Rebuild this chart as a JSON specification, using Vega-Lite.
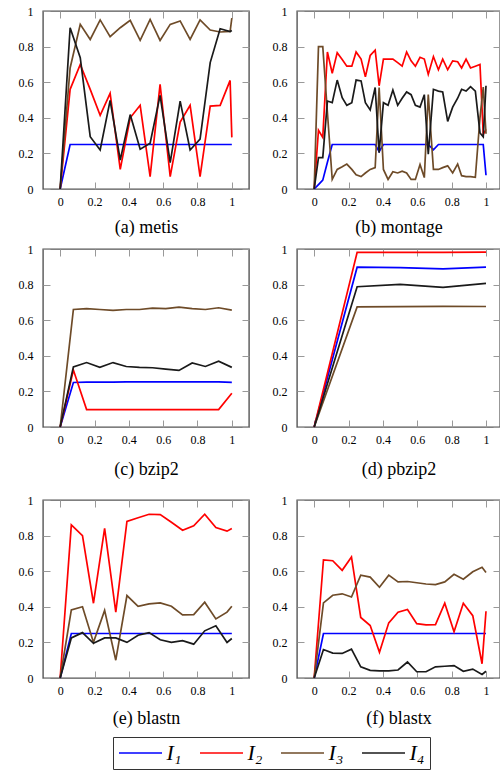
{
  "$schema": "https://vega.github.io/schema/vega-lite/v6.json",
  "padding": {"left": 17, "top": 4, "right": 0, "bottom": 0},
  "config": {
    "font": "Liberation Serif",
    "view": {"stroke": "#555", "strokeWidth": 1.4},
    "axis": {"grid": false, "domain": false, "tickColor": "#999", "tickWidth": 1, "tickSize": 7, "offset": -7,
      "labelFont": "Liberation Serif", "labelFontSize": 12, "labelColor": "#000",
      "titleFont": "Liberation Serif", "titleFontSize": 18, "titleFontWeight": "normal", "titleColor": "#000"},
    "line": {"strokeWidth": 1.7}
  },
  "datasets": {
    "a": [
      {"x":0,"I1":0,"I2":0,"I3":0,"I4":0},
      {"x":0.058,"I1":0.25,"I2":0.56,"I3":0.68,"I4":0.906},
      {"x":0.117,"I1":0.25,"I2":0.70,"I3":0.925,"I4":0.738},
      {"x":0.175,"I1":0.25,"I2":0.56,"I3":0.84,"I4":0.294},
      {"x":0.233,"I1":0.25,"I2":0.414,"I3":0.95,"I4":0.219},
      {"x":0.291,"I1":0.25,"I2":0.537,"I3":0.856,"I4":0.498},
      {"x":0.35,"I1":0.25,"I2":0.11,"I3":0.906,"I4":0.163},
      {"x":0.408,"I1":0.25,"I2":0.40,"I3":0.948,"I4":0.418},
      {"x":0.466,"I1":0.25,"I2":0.47,"I3":0.835,"I4":0.223},
      {"x":0.524,"I1":0.25,"I2":0.07,"I3":0.953,"I4":0.257},
      {"x":0.582,"I1":0.25,"I2":0.588,"I3":0.835,"I4":0.526},
      {"x":0.641,"I1":0.25,"I2":0.07,"I3":0.925,"I4":0.148},
      {"x":0.699,"I1":0.25,"I2":0.376,"I3":0.944,"I4":0.494},
      {"x":0.757,"I1":0.25,"I2":0.47,"I3":0.84,"I4":0.219},
      {"x":0.815,"I1":0.25,"I2":0.07,"I3":0.95,"I4":0.28},
      {"x":0.874,"I1":0.25,"I2":0.466,"I3":0.893,"I4":0.71},
      {"x":0.932,"I1":0.25,"I2":0.47,"I3":0.882,"I4":0.90},
      {"x":0.99,"I1":0.25,"I2":0.61,"I3":0.885,"I4":0.885},
      {"x":1.0,"I1":0.25,"I2":0.29,"I3":0.96,"I4":0.89}
    ],
    "b": [
      {"x":0,"I1":0,"I2":0,"I3":0,"I4":0},
      {"x":0.025,"I1":0.025,"I2":0.33,"I3":0.80,"I4":0.176},
      {"x":0.05,"I1":0.05,"I2":0.29,"I3":0.80,"I4":0.176},
      {"x":0.077,"I1":0.15,"I2":0.77,"I3":0.43,"I4":0.494},
      {"x":0.105,"I1":0.25,"I2":0.65,"I3":0.054,"I4":0.485},
      {"x":0.134,"I1":0.25,"I2":0.766,"I3":0.11,"I4":0.612},
      {"x":0.163,"I1":0.25,"I2":0.727,"I3":0.125,"I4":0.513},
      {"x":0.19,"I1":0.25,"I2":0.69,"I3":0.14,"I4":0.47},
      {"x":0.219,"I1":0.25,"I2":0.69,"I3":0.11,"I4":0.485},
      {"x":0.244,"I1":0.25,"I2":0.77,"I3":0.08,"I4":0.612},
      {"x":0.273,"I1":0.25,"I2":0.73,"I3":0.07,"I4":0.607},
      {"x":0.298,"I1":0.25,"I2":0.63,"I3":0.09,"I4":0.485},
      {"x":0.326,"I1":0.25,"I2":0.75,"I3":0.11,"I4":0.444},
      {"x":0.355,"I1":0.25,"I2":0.78,"I3":0.12,"I4":0.57},
      {"x":0.378,"I1":0.21,"I2":0.58,"I3":0.57,"I4":0.204},
      {"x":0.403,"I1":0.25,"I2":0.73,"I3":0.11,"I4":0.485},
      {"x":0.43,"I1":0.25,"I2":0.73,"I3":0.054,"I4":0.47},
      {"x":0.458,"I1":0.25,"I2":0.73,"I3":0.097,"I4":0.556},
      {"x":0.486,"I1":0.25,"I2":0.71,"I3":0.09,"I4":0.47},
      {"x":0.512,"I1":0.25,"I2":0.69,"I3":0.10,"I4":0.51},
      {"x":0.538,"I1":0.25,"I2":0.77,"I3":0.09,"I4":0.545},
      {"x":0.564,"I1":0.25,"I2":0.72,"I3":0.054,"I4":0.53},
      {"x":0.589,"I1":0.25,"I2":0.69,"I3":0.054,"I4":0.47},
      {"x":0.616,"I1":0.25,"I2":0.74,"I3":0.138,"I4":0.46},
      {"x":0.641,"I1":0.25,"I2":0.73,"I3":0.064,"I4":0.53},
      {"x":0.664,"I1":0.25,"I2":0.644,"I3":0.53,"I4":0.195},
      {"x":0.694,"I1":0.22,"I2":0.744,"I3":0.11,"I4":0.56},
      {"x":0.723,"I1":0.25,"I2":0.67,"I3":0.11,"I4":0.55},
      {"x":0.748,"I1":0.25,"I2":0.73,"I3":0.12,"I4":0.545},
      {"x":0.777,"I1":0.25,"I2":0.67,"I3":0.13,"I4":0.38},
      {"x":0.806,"I1":0.25,"I2":0.72,"I3":0.09,"I4":0.46},
      {"x":0.835,"I1":0.25,"I2":0.715,"I3":0.14,"I4":0.51},
      {"x":0.858,"I1":0.25,"I2":0.68,"I3":0.075,"I4":0.56},
      {"x":0.884,"I1":0.25,"I2":0.73,"I3":0.07,"I4":0.55},
      {"x":0.91,"I1":0.25,"I2":0.68,"I3":0.07,"I4":0.575},
      {"x":0.938,"I1":0.25,"I2":0.69,"I3":0.066,"I4":0.55},
      {"x":0.965,"I1":0.25,"I2":0.70,"I3":0.40,"I4":0.315},
      {"x":0.984,"I1":0.25,"I2":0.307,"I3":0.573,"I4":0.293},
      {"x":1.0,"I1":0.077,"I2":0.335,"I3":0.31,"I4":0.58}
    ],
    "c": [
      {"x":0,"I1":0,"I2":0,"I3":0,"I4":0},
      {"x":0.077,"I1":0.25,"I2":0.32,"I3":0.66,"I4":0.338},
      {"x":0.154,"I1":0.252,"I2":0.098,"I3":0.665,"I4":0.362},
      {"x":0.231,"I1":0.252,"I2":0.098,"I3":0.66,"I4":0.335},
      {"x":0.308,"I1":0.252,"I2":0.098,"I3":0.655,"I4":0.362},
      {"x":0.385,"I1":0.253,"I2":0.098,"I3":0.66,"I4":0.34},
      {"x":0.462,"I1":0.253,"I2":0.098,"I3":0.66,"I4":0.335},
      {"x":0.538,"I1":0.253,"I2":0.098,"I3":0.668,"I4":0.333},
      {"x":0.615,"I1":0.253,"I2":0.098,"I3":0.665,"I4":0.325},
      {"x":0.692,"I1":0.253,"I2":0.098,"I3":0.673,"I4":0.318},
      {"x":0.769,"I1":0.253,"I2":0.098,"I3":0.665,"I4":0.36},
      {"x":0.846,"I1":0.253,"I2":0.098,"I3":0.66,"I4":0.34},
      {"x":0.923,"I1":0.253,"I2":0.098,"I3":0.67,"I4":0.37},
      {"x":1.0,"I1":0.251,"I2":0.19,"I3":0.657,"I4":0.335}
    ],
    "d": [
      {"x":0,"I1":0,"I2":0,"I3":0,"I4":0},
      {"x":0.25,"I1":0.898,"I2":0.981,"I3":0.675,"I4":0.788},
      {"x":0.5,"I1":0.895,"I2":0.981,"I3":0.676,"I4":0.801},
      {"x":0.75,"I1":0.888,"I2":0.981,"I3":0.678,"I4":0.784},
      {"x":1.0,"I1":0.898,"I2":0.983,"I3":0.677,"I4":0.807}
    ],
    "e": [
      {"x":0,"I1":0,"I2":0,"I3":0,"I4":0},
      {"x":0.065,"I1":0.25,"I2":0.86,"I3":0.383,"I4":0.225},
      {"x":0.13,"I1":0.25,"I2":0.80,"I3":0.40,"I4":0.255},
      {"x":0.194,"I1":0.25,"I2":0.42,"I3":0.20,"I4":0.195},
      {"x":0.259,"I1":0.25,"I2":0.84,"I3":0.38,"I4":0.225},
      {"x":0.324,"I1":0.25,"I2":0.37,"I3":0.10,"I4":0.225},
      {"x":0.389,"I1":0.25,"I2":0.88,"I3":0.463,"I4":0.20},
      {"x":0.454,"I1":0.25,"I2":0.90,"I3":0.403,"I4":0.24},
      {"x":0.518,"I1":0.25,"I2":0.92,"I3":0.416,"I4":0.255},
      {"x":0.583,"I1":0.25,"I2":0.918,"I3":0.422,"I4":0.215},
      {"x":0.648,"I1":0.25,"I2":0.875,"I3":0.403,"I4":0.20},
      {"x":0.713,"I1":0.25,"I2":0.83,"I3":0.355,"I4":0.21},
      {"x":0.778,"I1":0.25,"I2":0.855,"I3":0.356,"I4":0.19},
      {"x":0.842,"I1":0.25,"I2":0.92,"I3":0.426,"I4":0.265},
      {"x":0.907,"I1":0.25,"I2":0.845,"I3":0.332,"I4":0.293},
      {"x":0.972,"I1":0.25,"I2":0.825,"I3":0.37,"I4":0.20},
      {"x":1.0,"I1":0.25,"I2":0.84,"I3":0.403,"I4":0.222}
    ],
    "f": [
      {"x":0,"I1":0,"I2":0,"I3":0,"I4":0},
      {"x":0.054,"I1":0.25,"I2":0.664,"I3":0.422,"I4":0.16},
      {"x":0.108,"I1":0.25,"I2":0.659,"I3":0.465,"I4":0.14},
      {"x":0.163,"I1":0.25,"I2":0.605,"I3":0.473,"I4":0.138},
      {"x":0.217,"I1":0.25,"I2":0.68,"I3":0.455,"I4":0.162},
      {"x":0.271,"I1":0.25,"I2":0.34,"I3":0.578,"I4":0.063},
      {"x":0.326,"I1":0.25,"I2":0.295,"I3":0.567,"I4":0.043},
      {"x":0.38,"I1":0.25,"I2":0.144,"I3":0.51,"I4":0.04},
      {"x":0.434,"I1":0.25,"I2":0.31,"I3":0.578,"I4":0.04},
      {"x":0.488,"I1":0.25,"I2":0.37,"I3":0.54,"I4":0.045},
      {"x":0.543,"I1":0.25,"I2":0.385,"I3":0.542,"I4":0.09},
      {"x":0.597,"I1":0.25,"I2":0.305,"I3":0.535,"I4":0.035},
      {"x":0.651,"I1":0.25,"I2":0.298,"I3":0.528,"I4":0.035},
      {"x":0.706,"I1":0.25,"I2":0.30,"I3":0.525,"I4":0.063},
      {"x":0.76,"I1":0.25,"I2":0.42,"I3":0.54,"I4":0.066},
      {"x":0.814,"I1":0.25,"I2":0.26,"I3":0.583,"I4":0.07},
      {"x":0.868,"I1":0.25,"I2":0.42,"I3":0.555,"I4":0.038},
      {"x":0.923,"I1":0.25,"I2":0.35,"I3":0.597,"I4":0.05},
      {"x":0.977,"I1":0.25,"I2":0.08,"I3":0.622,"I4":0.02},
      {"x":1.0,"I1":0.25,"I2":0.375,"I3":0.593,"I4":0.038}
    ]
  },
  "spacing": 5,
  "vconcat": [
    {
      "bounds": "flush",
      "spacing": 48,
      "hconcat": [
        {
          "width": 206, "height": 178,
          "data": {"name": "a"},
          "transform": [{"fold": ["I1","I2","I3","I4"], "as": ["s","y"]}],
          "layer": [
            {"mark": "line", "encoding": {
              "x": {"field": "x", "type": "quantitative", "scale": {"domain": [-0.1, 1.1], "nice": false, "zero": false}, "axis": {"values": [0,0.2,0.4,0.6,0.8,1], "format": "~g", "labelPadding": 7, "title": "(a) metis", "titleY": 50, "titleBaseline": "alphabetic"}},
              "y": {"field": "y", "type": "quantitative", "scale": {"domain": [0, 1], "nice": false}, "axis": {"values": [0,0.2,0.4,0.6,0.8,1], "format": "~g", "labelPadding": 10, "title": null}},
              "color": {"field": "s", "type": "nominal", "scale": {"domain": ["I1","I2","I3","I4"], "range": ["#0000ff","#ff0000","#6e4b28","#1a1a1a"]},
                "legend": {"title": null, "orient": "none", "legendX": 70, "legendY": 726, "direction": "horizontal", "columns": 4,
                  "symbolType": "M-2.15,0H2.15", "symbolSize": 400, "symbolStrokeWidth": 1.7, "symbolOffset": 11.5,
                  "labelFont": "Liberation Serif", "labelFontStyle": "italic", "labelFontSize": 22, "labelOffset": 15, "labelColor": "#000",
                  "columnPadding": 14, "strokeColor": "#333", "padding": 5,
                  "labelExpr": "'I' + (datum.label == 'I1' ? '₁' : datum.label == 'I2' ? '₂' : datum.label == 'I3' ? '₃' : '₄')"}}
            }},
            {"mark": {"type": "point", "opacity": 0}, "encoding": {
              "x": {"field": "x", "type": "quantitative", "scale": {"domain": [-0.1, 1.1], "nice": false, "zero": false}, "axis": {"orient": "top", "values": [0,0.2,0.4,0.6,0.8,1], "labels": false, "title": null}},
              "y": {"field": "y", "type": "quantitative", "scale": {"domain": [0, 1], "nice": false}, "axis": {"orient": "right", "values": [0,0.2,0.4,0.6,0.8,1], "labels": false, "title": null}}
            }}
          ],
          "resolve": {"axis": {"x": "independent", "y": "independent"}}
        },
        {
          "width": 203, "height": 178,
          "data": {"name": "b"},
          "transform": [{"fold": ["I1","I2","I3","I4"], "as": ["s","y"]}],
          "layer": [
            {"mark": "line", "encoding": {
              "x": {"field": "x", "type": "quantitative", "scale": {"domain": [-0.1, 1.0815], "nice": false, "zero": false}, "axis": {"values": [0,0.2,0.4,0.6,0.8,1], "format": "~g", "labelPadding": 7, "title": "(b) montage", "titleY": 50, "titleBaseline": "alphabetic"}},
              "y": {"field": "y", "type": "quantitative", "scale": {"domain": [0, 1], "nice": false}, "axis": {"values": [0,0.2,0.4,0.6,0.8,1], "format": "~g", "labelPadding": 10, "title": null}},
              "color": {"field": "s", "type": "nominal", "scale": {"domain": ["I1","I2","I3","I4"], "range": ["#0000ff","#ff0000","#6e4b28","#1a1a1a"]}}
            }},
            {"mark": {"type": "point", "opacity": 0}, "encoding": {
              "x": {"field": "x", "type": "quantitative", "scale": {"domain": [-0.1, 1.0815], "nice": false, "zero": false}, "axis": {"orient": "top", "values": [0,0.2,0.4,0.6,0.8,1], "labels": false, "title": null}},
              "y": {"field": "y", "type": "quantitative", "scale": {"domain": [0, 1], "nice": false}, "axis": {"orient": "right", "values": [0,0.2,0.4,0.6,0.8,1], "labels": false, "title": null}}
            }}
          ],
          "resolve": {"axis": {"x": "independent", "y": "independent"}}
        }
      ]
    },
    {
      "bounds": "flush",
      "spacing": 48,
      "hconcat": [
        {
          "width": 206, "height": 178,
          "data": {"name": "c"},
          "transform": [{"fold": ["I1","I2","I3","I4"], "as": ["s","y"]}],
          "layer": [
            {"mark": "line", "encoding": {
              "x": {"field": "x", "type": "quantitative", "scale": {"domain": [-0.1, 1.1], "nice": false, "zero": false}, "axis": {"values": [0,0.2,0.4,0.6,0.8,1], "format": "~g", "labelPadding": 7, "title": ["(c) bzip2", " "], "titleLineHeight": 9, "titleY": 54, "titleBaseline": "alphabetic"}},
              "y": {"field": "y", "type": "quantitative", "scale": {"domain": [0, 1], "nice": false}, "axis": {"values": [0,0.2,0.4,0.6,0.8,1], "format": "~g", "labelPadding": 10, "title": null}},
              "color": {"field": "s", "type": "nominal", "scale": {"domain": ["I1","I2","I3","I4"], "range": ["#0000ff","#ff0000","#6e4b28","#1a1a1a"]}}
            }},
            {"mark": {"type": "point", "opacity": 0}, "encoding": {
              "x": {"field": "x", "type": "quantitative", "scale": {"domain": [-0.1, 1.1], "nice": false, "zero": false}, "axis": {"orient": "top", "values": [0,0.2,0.4,0.6,0.8,1], "labels": false, "title": null}},
              "y": {"field": "y", "type": "quantitative", "scale": {"domain": [0, 1], "nice": false}, "axis": {"orient": "right", "values": [0,0.2,0.4,0.6,0.8,1], "labels": false, "title": null}}
            }}
          ],
          "resolve": {"axis": {"x": "independent", "y": "independent"}}
        },
        {
          "width": 203, "height": 178,
          "data": {"name": "d"},
          "transform": [{"fold": ["I1","I2","I3","I4"], "as": ["s","y"]}],
          "layer": [
            {"mark": "line", "encoding": {
              "x": {"field": "x", "type": "quantitative", "scale": {"domain": [-0.1, 1.0815], "nice": false, "zero": false}, "axis": {"values": [0,0.2,0.4,0.6,0.8,1], "format": "~g", "labelPadding": 7, "title": ["(d) pbzip2", " "], "titleLineHeight": 9, "titleY": 54, "titleBaseline": "alphabetic"}},
              "y": {"field": "y", "type": "quantitative", "scale": {"domain": [0, 1], "nice": false}, "axis": {"values": [0,0.2,0.4,0.6,0.8,1], "format": "~g", "labelPadding": 10, "title": null}},
              "color": {"field": "s", "type": "nominal", "scale": {"domain": ["I1","I2","I3","I4"], "range": ["#0000ff","#ff0000","#6e4b28","#1a1a1a"]}}
            }},
            {"mark": {"type": "point", "opacity": 0}, "encoding": {
              "x": {"field": "x", "type": "quantitative", "scale": {"domain": [-0.1, 1.0815], "nice": false, "zero": false}, "axis": {"orient": "top", "values": [0,0.2,0.4,0.6,0.8,1], "labels": false, "title": null}},
              "y": {"field": "y", "type": "quantitative", "scale": {"domain": [0, 1], "nice": false}, "axis": {"orient": "right", "values": [0,0.2,0.4,0.6,0.8,1], "labels": false, "title": null}}
            }}
          ],
          "resolve": {"axis": {"x": "independent", "y": "independent"}}
        }
      ]
    },
    {
      "bounds": "flush",
      "spacing": 48,
      "hconcat": [
        {
          "width": 206, "height": 178,
          "data": {"name": "e"},
          "transform": [{"fold": ["I1","I2","I3","I4"], "as": ["s","y"]}],
          "layer": [
            {"mark": "line", "encoding": {
              "x": {"field": "x", "type": "quantitative", "scale": {"domain": [-0.1, 1.1], "nice": false, "zero": false}, "axis": {"values": [0,0.2,0.4,0.6,0.8,1], "format": "~g", "labelPadding": 7, "title": "(e) blastn", "titleY": 52, "titleBaseline": "alphabetic"}},
              "y": {"field": "y", "type": "quantitative", "scale": {"domain": [0, 1], "nice": false}, "axis": {"values": [0,0.2,0.4,0.6,0.8,1], "format": "~g", "labelPadding": 10, "title": null}},
              "color": {"field": "s", "type": "nominal", "scale": {"domain": ["I1","I2","I3","I4"], "range": ["#0000ff","#ff0000","#6e4b28","#1a1a1a"]}}
            }},
            {"mark": {"type": "point", "opacity": 0}, "encoding": {
              "x": {"field": "x", "type": "quantitative", "scale": {"domain": [-0.1, 1.1], "nice": false, "zero": false}, "axis": {"orient": "top", "values": [0,0.2,0.4,0.6,0.8,1], "labels": false, "title": null}},
              "y": {"field": "y", "type": "quantitative", "scale": {"domain": [0, 1], "nice": false}, "axis": {"orient": "right", "values": [0,0.2,0.4,0.6,0.8,1], "labels": false, "title": null}}
            }}
          ],
          "resolve": {"axis": {"x": "independent", "y": "independent"}}
        },
        {
          "width": 203, "height": 178,
          "data": {"name": "f"},
          "transform": [{"fold": ["I1","I2","I3","I4"], "as": ["s","y"]}],
          "layer": [
            {"mark": "line", "encoding": {
              "x": {"field": "x", "type": "quantitative", "scale": {"domain": [-0.1, 1.0815], "nice": false, "zero": false}, "axis": {"values": [0,0.2,0.4,0.6,0.8,1], "format": "~g", "labelPadding": 7, "title": "(f) blastx", "titleY": 52, "titleBaseline": "alphabetic"}},
              "y": {"field": "y", "type": "quantitative", "scale": {"domain": [0, 1], "nice": false}, "axis": {"values": [0,0.2,0.4,0.6,0.8,1], "format": "~g", "labelPadding": 10, "title": null}},
              "color": {"field": "s", "type": "nominal", "scale": {"domain": ["I1","I2","I3","I4"], "range": ["#0000ff","#ff0000","#6e4b28","#1a1a1a"]}}
            }},
            {"mark": {"type": "point", "opacity": 0}, "encoding": {
              "x": {"field": "x", "type": "quantitative", "scale": {"domain": [-0.1, 1.0815], "nice": false, "zero": false}, "axis": {"orient": "top", "values": [0,0.2,0.4,0.6,0.8,1], "labels": false, "title": null}},
              "y": {"field": "y", "type": "quantitative", "scale": {"domain": [0, 1], "nice": false}, "axis": {"orient": "right", "values": [0,0.2,0.4,0.6,0.8,1], "labels": false, "title": null}}
            }}
          ],
          "resolve": {"axis": {"x": "independent", "y": "independent"}}
        }
      ]
    }
  ]
}
